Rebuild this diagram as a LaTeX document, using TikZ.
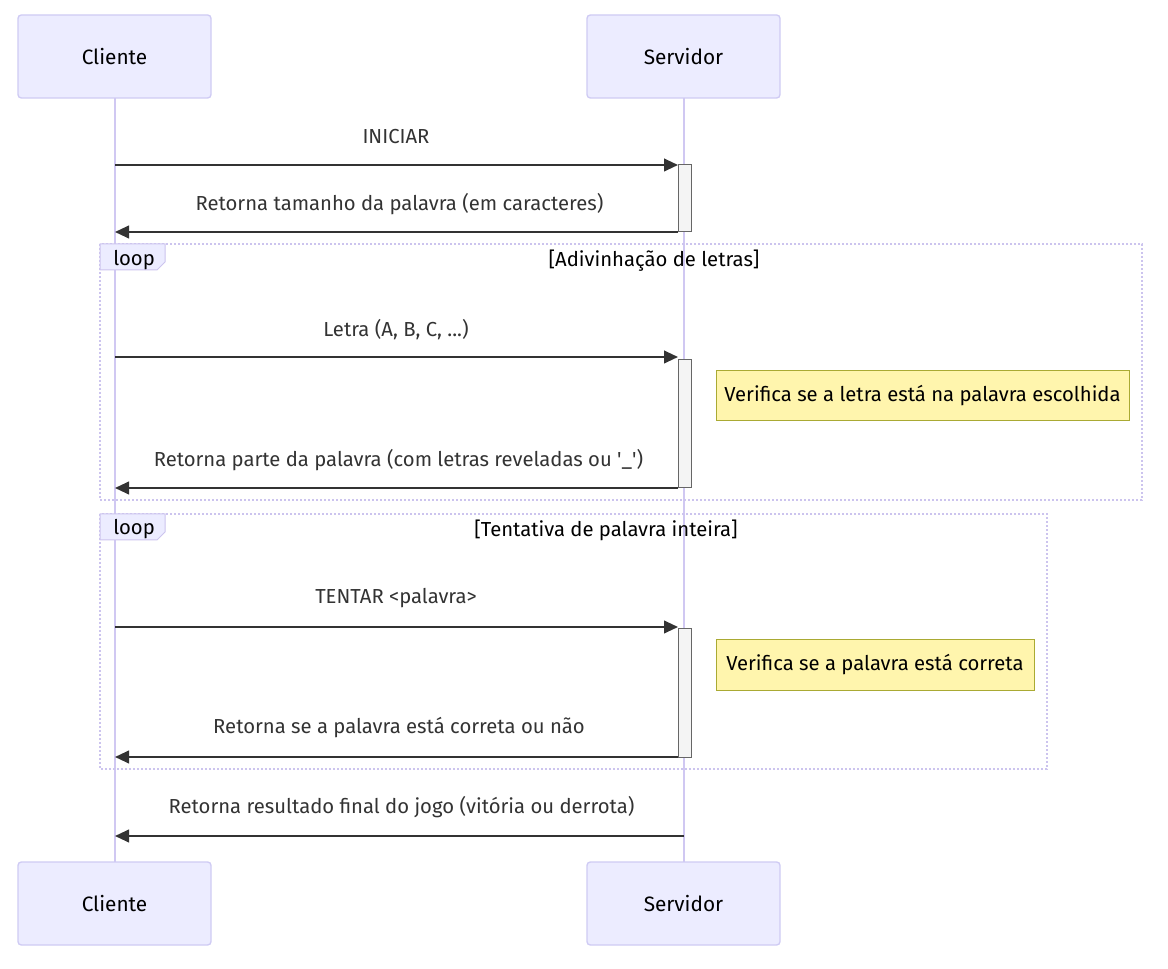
\documentclass[tikz,border=0pt]{standalone}
\usepackage{fontspec}
\setmainfont{Fira Sans}
\usetikzlibrary{arrows.meta}
\definecolor{actfill}{HTML}{ECECFF}
\definecolor{actdraw}{HTML}{CFCBF4}
\definecolor{lifecol}{HTML}{D0C8F2}
\definecolor{loopcol}{HTML}{CCC4EE}
\definecolor{msgcol}{HTML}{333333}
\definecolor{notefill}{HTML}{FFF5AD}
\definecolor{notedraw}{HTML}{AAAA33}
\definecolor{actvfill}{HTML}{F4F4F4}
\definecolor{actvdraw}{HTML}{666666}
\newcommand{\txtsize}{\fontsize{15.2}{18}\selectfont}
\tikzset{
  actor/.style={draw=actdraw, fill=actfill, line width=1pt, rounded corners=2.5pt, minimum width=193*0.75pt, minimum height=83*0.75pt, inner sep=0pt, font=\fontsize{15.6}{18}\selectfont},
  lifeline/.style={draw=lifecol, line width=1.5pt},
  msg/.style={draw=msgcol, line width=1.5pt, -{Triangle[length=10.5pt,width=9.5pt]}},
  msglabel/.style={text=msgcol, font=\txtsize, inner sep=0pt, anchor=center},
  actv/.style={draw=actvdraw, fill=actvfill, line width=0.75pt},
  notebox/.style={draw=notedraw, fill=notefill, line width=0.75pt, inner sep=0pt, font=\txtsize},
  loopframe/.style={draw=loopcol, line width=1.5pt, dash pattern=on 1.5pt off 1.5pt},
  looptag/.style={draw=loopcol, fill=actfill, line width=0.75pt},
  looptitle/.style={font=\txtsize, inner sep=0pt, anchor=center},
}
\begin{document}
\begin{tikzpicture}[x=0.75pt,y=-0.75pt]
\useasboundingbox[fill=white] (0,0) rectangle (1168,969);
% lifelines
\coordinate (cl1) at (115,98); \coordinate (cl2) at (115,862);
\coordinate (sl1) at (684,98); \coordinate (sl2) at (684,862);
\draw[lifeline] (cl1) -- (cl2);
\draw[lifeline] (sl1) -- (sl2);
% actors
\node[actor] (ctop) at (114.5,56.5) {Cliente};
\node[actor] (stop) at (683.5,56.5) {Servidor};
\node[actor] (cbot) at (114.5,903.5) {Cliente};
\node[actor] (sbot) at (683.5,903.5) {Servidor};
% loop frames
\draw[loopframe] (100,244) rectangle (1142,500);
\draw[looptag] (100,244) -- (165,244) -- (165,262) -- (157,270) -- (100,270) -- cycle;
\node[looptitle, anchor=west] (l1tag) at (113,260) {loop};
\node[looptitle] (l1title) at (654,261) {[Adivinhação de letras]};
\draw[loopframe] (100,514) rectangle (1047,769);
\draw[looptag] (100,514) -- (165,514) -- (165,532) -- (157,540) -- (100,540) -- cycle;
\node[looptitle, anchor=west] (l2tag) at (113,529) {loop};
\node[looptitle] (l2title) at (606,530) {[Tentativa de palavra inteira]};
% activations
\draw[actv] (678,165) rectangle (691,232);
\draw[actv] (678,360) rectangle (691,488);
\draw[actv] (678,629) rectangle (691,757);
% coordinates for messages
\coordinate (c1) at (115,165); \coordinate (s1) at (678,165);
\coordinate (c2) at (115,232); \coordinate (s2) at (678,232);
\coordinate (c3) at (115,357); \coordinate (s3) at (678,357);
\coordinate (c4) at (115,488); \coordinate (s4) at (678,488);
\coordinate (c5) at (115,627); \coordinate (s5) at (678,627);
\coordinate (c6) at (115,757); \coordinate (s6) at (678,757);
\coordinate (c7) at (115,836); \coordinate (s7) at (684,836);
\draw[msg] (c1) -- (s1);
\draw[msg] (s2) -- (c2);
\draw[msg] (c3) -- (s3);
\draw[msg] (s4) -- (c4);
\draw[msg] (c5) -- (s5);
\draw[msg] (s6) -- (c6);
\draw[msg] (s7) -- (c7);
\node[msglabel] (m1) at (396,137) {INICIAR};
\node[msglabel] (m2) at (399.5,204) {Retorna tamanho da palavra (em caracteres)};
\node[msglabel] (m3) at (396,330) {Letra (A, B, C, .{}.{}.)};
\node[msglabel] (m4) at (398.5,460) {Retorna parte da palavra (com letras reveladas ou \textquotesingle\_\textquotesingle)};
\node[msglabel] (m5) at (396,598) {TENTAR <palavra>};
\node[msglabel] (m6) at (399,728) {Retorna se a palavra está correta ou não};
\node[msglabel] (m7) at (401.5,807) {Retorna resultado final do jogo (vitória ou derrota)};
% notes
\node[notebox, minimum width=413*0.75pt, minimum height=50*0.75pt] (n1) at (922.5,396) {Verifica se a letra está na palavra escolhida};
\node[notebox, minimum width=318*0.75pt, minimum height=50*0.75pt] (n2) at (875,665) {Verifica se a palavra está correta};
\end{tikzpicture}
\end{document}
